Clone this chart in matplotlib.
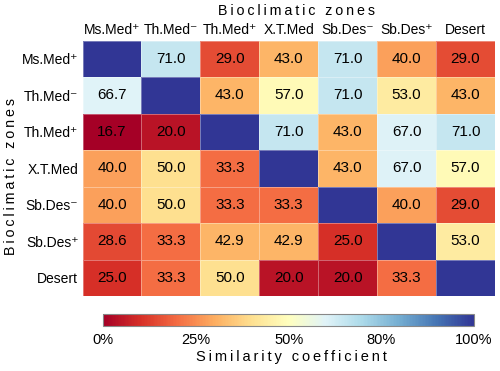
import numpy as np
import matplotlib
matplotlib.use("Agg")
import matplotlib.pyplot as plt
from matplotlib.colors import Normalize

zones = ["Ms.Med\u207a", "Th.Med\u207b", "Th.Med\u207a", "X.T.Med", "Sb.Des\u207b", "Sb.Des\u207a", "Desert"]

row_ms_med_p = [100, 71.0, 29.0, 43.0, 71.0, 40.0, 29.0]
row_th_med_m = [66.7, 100, 43.0, 57.0, 71.0, 53.0, 43.0]
row_th_med_p = [16.7, 20.0, 100, 71.0, 43.0, 67.0, 71.0]
row_xt_med = [40.0, 50.0, 33.3, 100, 43.0, 67.0, 57.0]
row_sb_des_m = [40.0, 50.0, 33.3, 33.3, 100, 40.0, 29.0]
row_sb_des_p = [28.6, 33.3, 42.9, 42.9, 25.0, 100, 53.0]
row_desert = [25.0, 33.3, 50.0, 20.0, 20.0, 33.3, 100]

cbar_ticks = [0, 25, 50, 75, 100]
cbar_labels = ["0%", "25%", "50%", "80%", "100%"]

data = np.array([row_ms_med_p, row_th_med_m, row_th_med_p, row_xt_med,
                 row_sb_des_m, row_sb_des_p, row_desert])

FAM = ["Liberation Sans", "DejaVu Sans"]
plt.rcParams["font.family"] = FAM

def spaced(s):
    return "\u2009".join(s)

fig = plt.figure(figsize=(5, 3.71), dpi=100)
ax = fig.add_axes([0.165, 0.2022, 0.825, 0.6881])
cmap = plt.get_cmap("RdYlBu")
norm = Normalize(vmin=data.min(), vmax=100)
n = len(zones)
ax.pcolormesh(np.arange(n + 1), np.arange(n + 1), data, cmap=cmap, norm=norm,
              edgecolor=(1, 1, 1, 0.35), linewidth=0.4)
ax.set_xlim(0, n)
ax.set_ylim(n, 0)
for i in range(n):
    for j in range(n):
        if i != j:
            ax.text(j + 0.5, i + 0.5, f"{data[i, j]:.1f}", ha="center", va="center",
                    fontsize=11, color="black")
ax.set_xticks(np.arange(n) + 0.5)
ax.set_yticks(np.arange(n) + 0.5)
ax.set_xticklabels(zones, fontsize=10)
ax.set_yticklabels(zones, fontsize=10)
ax.xaxis.tick_top()
ax.tick_params(length=0, pad=3)
for s in ax.spines.values():
    s.set_visible(False)

fig.text(0.594, 0.97, spaced("Bioclimatic zones"), ha="center", va="center", fontsize=10.3)
fig.text(0.022, 0.525, spaced("Bioclimatic zones"), ha="center", va="center",
         fontsize=10.3, rotation=90)

cax = fig.add_axes([0.2066, 0.1221, 0.7414, 0.0323])
sm = matplotlib.cm.ScalarMappable(norm=Normalize(0, 100), cmap=cmap)
cb = fig.colorbar(sm, cax=cax, orientation="horizontal")
cb.set_ticks(cbar_ticks)
cb.set_ticklabels(cbar_labels, fontsize=10.5)
cax.tick_params(length=0, pad=5)
cb.outline.set_edgecolor("#888888")
cb.outline.set_linewidth(0.8)
fig.text(0.582, 0.038, spaced("Similarity coefficient"), ha="center", va="center", fontsize=10.5)

fig.savefig("out.png", dpi=100)
